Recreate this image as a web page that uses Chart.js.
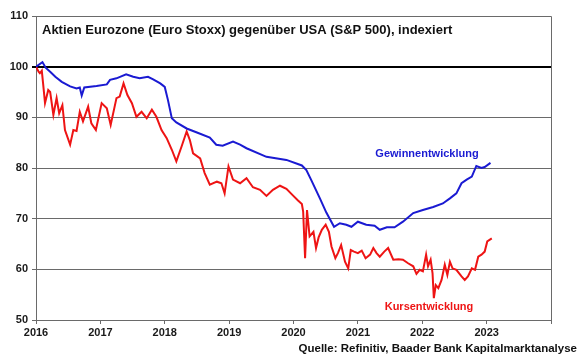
<!DOCTYPE html>
<html>
<head>
<meta charset="utf-8">
<script src="https://cdn.jsdelivr.net/npm/chart.js@4/dist/chart.umd.min.js"></script>
<style>
  html, body { margin: 0; padding: 0; background: #ffffff; }
  #wrap { width: 580px; height: 358px; position: relative; }
</style>
</head>
<body>
<div id="wrap"><canvas id="c" width="580" height="358"></canvas></div>
<script>
// ---- Data ----
const gewinnYears = [2016.00,2016.10,2016.15,2016.22,2016.30,2016.40,2016.53,2016.63,2016.68,2016.71,2016.75,2016.94,2017.10,2017.15,2017.25,2017.40,2017.51,2017.61,2017.74,2017.82,2017.93,2018.00,2018.05,2018.11,2018.18,2018.34,2018.50,2018.70,2018.80,2018.90,2019.06,2019.17,2019.27,2019.58,2019.89,2020.13,2020.20,2020.28,2020.41,2020.51,2020.63,2020.72,2020.82,2020.90,2021.00,2021.13,2021.26,2021.34,2021.45,2021.57,2021.70,2021.86,2022.01,2022.17,2022.32,2022.43,2022.53,2022.61,2022.69,2022.77,2022.84,2022.92,2022.97,2023.06];
const gewinnValues = [100.0,100.9,99.8,99.0,98.0,97.0,96.1,95.7,95.9,94.3,95.9,96.2,96.5,97.4,97.7,98.5,98.0,97.7,98.0,97.5,96.7,96.0,93.4,89.8,89.0,87.8,87.0,86.0,84.6,84.4,85.2,84.6,83.9,82.2,81.6,80.5,79.6,77.5,74.0,71.2,68.4,69.1,68.8,68.4,69.4,68.8,68.6,67.8,68.3,68.3,69.4,71.1,71.7,72.3,73.0,74.0,75.0,77.0,77.7,78.3,80.4,80.0,80.2,81.0];

const kursYears = [2016.00,2016.04,2016.06,2016.09,2016.11,2016.14,2016.19,2016.22,2016.27,2016.32,2016.36,2016.41,2016.45,2016.53,2016.58,2016.63,2016.68,2016.73,2016.81,2016.86,2016.93,2017.02,2017.10,2017.16,2017.25,2017.30,2017.36,2017.42,2017.49,2017.56,2017.64,2017.72,2017.80,2017.87,2017.95,2018.03,2018.11,2018.18,2018.26,2018.34,2018.39,2018.44,2018.55,2018.62,2018.70,2018.81,2018.88,2018.93,2018.99,2019.06,2019.17,2019.27,2019.37,2019.48,2019.58,2019.68,2019.79,2019.89,2019.99,2020.07,2020.13,2020.15,2020.18,2020.21,2020.25,2020.31,2020.35,2020.39,2020.44,2020.50,2020.55,2020.59,2020.65,2020.69,2020.74,2020.80,2020.85,2020.89,2020.94,2021.00,2021.06,2021.12,2021.19,2021.24,2021.29,2021.34,2021.41,2021.47,2021.55,2021.63,2021.70,2021.78,2021.86,2021.91,2021.96,2022.01,2022.06,2022.09,2022.13,2022.16,2022.18,2022.21,2022.25,2022.30,2022.35,2022.39,2022.43,2022.47,2022.53,2022.61,2022.66,2022.71,2022.77,2022.82,2022.87,2022.92,2022.97,2023.01,2023.08];
const kursValues = [100.0,99.0,98.7,99.2,96.7,92.8,95.4,95.0,90.5,93.8,90.8,92.4,87.5,84.6,87.5,87.3,91.1,89.2,92.1,88.8,87.5,92.8,91.8,88.5,93.8,94.1,96.7,94.4,92.8,90.1,91.1,89.8,91.5,90.1,87.5,85.9,83.6,81.3,84.2,87.2,85.5,82.9,81.9,79.0,76.7,77.3,77.0,75.0,80.3,77.7,77.0,78.0,76.2,75.7,74.5,75.7,76.5,75.9,74.6,73.6,72.9,71.4,62.2,71.7,66.5,67.4,64.2,66.3,67.8,68.8,67.4,64.5,62.2,63.2,64.8,61.5,60.2,63.8,63.5,63.2,63.7,62.2,62.9,64.2,63.2,62.5,63.5,64.2,61.9,62.0,61.9,61.2,60.6,59.1,59.9,59.6,62.9,60.6,61.9,59.2,54.3,56.9,56.3,57.9,60.9,58.9,61.5,60.2,59.9,58.6,57.9,58.6,60.2,59.9,62.5,62.9,63.5,65.5,66.1];

const yTicks = [50, 60, 70, 80, 90, 100, 110];
const xTicks = [2016, 2017, 2018, 2019, 2020, 2021, 2022, 2023];

const titleText = 'Aktien Eurozone (Euro Stoxx) gegenüber USA (S&P 500), indexiert';
const gewinnLabel = 'Gewinnentwicklung';
const kursLabel = 'Kursentwicklung';
const sourceText = 'Quelle: Refinitiv, Baader Bank Kapitalmarktanalyse';

const BLUE = '#1a1ad2';
const RED = '#ee1414';
const FONT = '"Liberation Sans", Arial, sans-serif';

function toPoints(xs, ys) { return xs.map((x, i) => ({ x: x, y: ys[i] })); }

const framePlugin = {
  id: 'frame',
  afterDatasetsDraw(chart) {
    const { ctx, chartArea: a } = chart;
    ctx.save();
    ctx.strokeStyle = '#6a6a6a';
    ctx.lineWidth = 1;
    ctx.beginPath();
    ctx.moveTo(a.left, a.top + 0.5);
    ctx.lineTo(a.right + 0.5, a.top + 0.5);
    ctx.lineTo(a.right + 0.5, a.bottom);
    ctx.stroke();
    ctx.restore();
  }
};

const textPlugin = {
  id: 'texts',
  afterDraw(chart) {
    const { ctx, chartArea: a, scales } = chart;
    ctx.save();
    ctx.textBaseline = 'alphabetic';
    ctx.fillStyle = '#111111';
    ctx.font = 'bold 13px ' + FONT;
    ctx.textAlign = 'left';
    ctx.fillText(titleText, a.left + 6, 34);

    ctx.font = 'bold 11px ' + FONT;
    ctx.textAlign = 'center';
    ctx.fillStyle = BLUE;
    ctx.fillText(gewinnLabel, 427, 156.5);
    ctx.fillStyle = RED;
    ctx.fillText(kursLabel, 429, 309.5);

    ctx.fillStyle = '#111111';
    ctx.font = 'bold 11.5px ' + FONT;
    ctx.textAlign = 'right';
    ctx.fillText(sourceText, 577, 351.5);
    ctx.restore();
  }
};

new Chart(document.getElementById('c'), {
  type: 'line',
  data: {
    datasets: [
      {
        label: gewinnLabel,
        data: toPoints(gewinnYears, gewinnValues),
        borderColor: BLUE,
        borderWidth: 2,
        pointRadius: 0,
        tension: 0,
        fill: false
      },
      {
        label: kursLabel,
        data: toPoints(kursYears, kursValues),
        borderColor: RED,
        borderWidth: 2,
        pointRadius: 0,
        tension: 0,
        fill: false
      }
    ]
  },
  options: {
    responsive: false,
    animation: false,
    events: [],
    layout: { padding: { left: 0, right: 29, top: 16, bottom: 0 } },
    plugins: {
      legend: { display: false },
      title: { display: false },
      tooltip: { enabled: false }
    },
    scales: {
      x: {
        type: 'linear',
        min: 2016,
        max: 2024,
        afterBuildTicks(scale) { scale.ticks = xTicks.concat([2024]).map(v => ({ value: v })); },
        afterFit(scale) { scale.height = 38; },
        ticks: {
          autoSkip: false,
          maxRotation: 0,
          padding: 2,
          color: '#1a1a1a',
          font: { family: FONT, size: 11, weight: 'bold' },
          callback: (v) => xTicks.includes(v) ? String(v) : ''
        },
        grid: {
          drawOnChartArea: false,
          drawTicks: true,
          tickLength: 4,
          color: '#6a6a6a'
        },
        border: { display: true, color: '#6a6a6a', width: 1 }
      },
      y: {
        min: 50,
        max: 110,
        afterBuildTicks(scale) { scale.ticks = yTicks.map(v => ({ value: v })); },
        afterFit(scale) { scale.width = 36; },
        ticks: {
          padding: 4,
          color: '#1a1a1a',
          font: { family: FONT, size: 11, weight: 'bold' },
          callback: (v) => String(v)
        },
        grid: {
          drawTicks: true,
          tickLength: 4,
          color: (c) => (c.tick && c.tick.value === 100) ? '#000000' : '#6a6a6a',
          lineWidth: (c) => (c.tick && c.tick.value === 100) ? 2 : 1
        },
        border: { display: true, color: '#6a6a6a', width: 1 }
      }
    }
  },
  plugins: [framePlugin, textPlugin]
});
</script>
</body>
</html>
